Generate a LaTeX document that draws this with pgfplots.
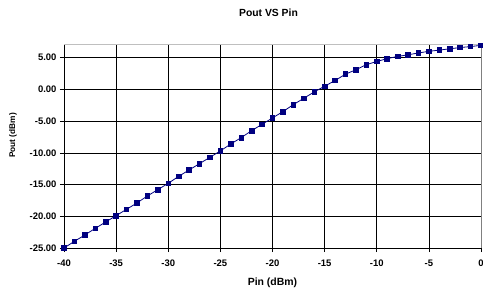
\documentclass[border=0pt]{standalone}
\usepackage{fontspec}
\setmainfont{Liberation Sans}
\usepackage{pgfplots}
\pgfplotsset{compat=1.18}
\definecolor{navyblue}{RGB}{0,0,128}
\begin{document}
\begin{tikzpicture}
\begin{axis}[name=ax, scale only axis, width=417bp, height=203bp,
  xmin=-40, xmax=0, ymin=-25, ymax=7,
  xtick={-40,-35,...,0}, ytick={-25,-20,...,5},
  axis x line=bottom, axis y line=left,
  axis line style={-, black, line width=0.7pt},
  grid=major, grid style={black, line width=0.6pt},
  tick align=outside, major tick length=4bp,
  tick style={black, line width=0.6pt},
  /pgf/number format/assume math mode=true,
  ticklabel style={font=\fontsize{9.5}{11}\selectfont\bfseries},
  yticklabel style={/pgf/number format/.cd, fixed, fixed zerofill, precision=2},
  xticklabel style={yshift=-4bp, /pgf/number format/.cd, fixed, precision=0},
  title={Pout VS Pin},
  title style={font=\fontsize{10.4}{12}\selectfont\bfseries, at={(rel axis cs:0.5,1)}, anchor=center, yshift=26bp, xshift=-4bp},
  xlabel={Pin (dBm)},
  xlabel style={font=\fontsize{10.5}{12}\selectfont\bfseries, at={(rel axis cs:0.5,0)}, anchor=center, yshift=-35bp},
  ylabel={Pout (dBm)},
  ylabel style={font=\fontsize{8.3}{10}\selectfont\bfseries, at={(rel axis cs:0,0.5)}, anchor=center, xshift=11bp, yshift=51bp},
  clip=false,
]
\addplot[navyblue, line width=0.8bp, mark=square*, mark size=2.3bp, mark options={fill=navyblue, draw=navyblue}] coordinates {
(-40,-25.0) (-39,-23.95) (-38,-22.95) (-37,-21.9) (-36,-20.9) (-35,-19.9)
(-34,-18.9) (-33,-17.9) (-32,-16.8) (-31,-15.8) (-30,-14.8) (-29,-13.7)
(-28,-12.7) (-27,-11.7) (-26,-10.7) (-25,-9.7) (-24,-8.6) (-23,-7.6)
(-22,-6.5) (-21,-5.5) (-20,-4.5) (-19,-3.5) (-18,-2.4) (-17,-1.4)
(-16,-0.4) (-15,0.5) (-14,1.4) (-13,2.4) (-12,3.1) (-11,3.9)
(-10,4.4) (-9,4.85) (-8,5.2) (-7,5.45) (-6,5.75) (-5,6.0)
(-4,6.2) (-3,6.4) (-2,6.6) (-1,6.75) (0,6.95)
};
\draw[black!25, line width=1bp] (rel axis cs:0,1) -- (rel axis cs:1,1);
\draw[black!50, line width=1bp] (rel axis cs:1,0) -- (rel axis cs:1,1);
\end{axis}
\pgfresetboundingbox
\path[use as bounding box] ([xshift=-64bp,yshift=-40bp]ax.south west) rectangle ([xshift=2bp,yshift=45bp]ax.north east);
\end{tikzpicture}
\end{document}
